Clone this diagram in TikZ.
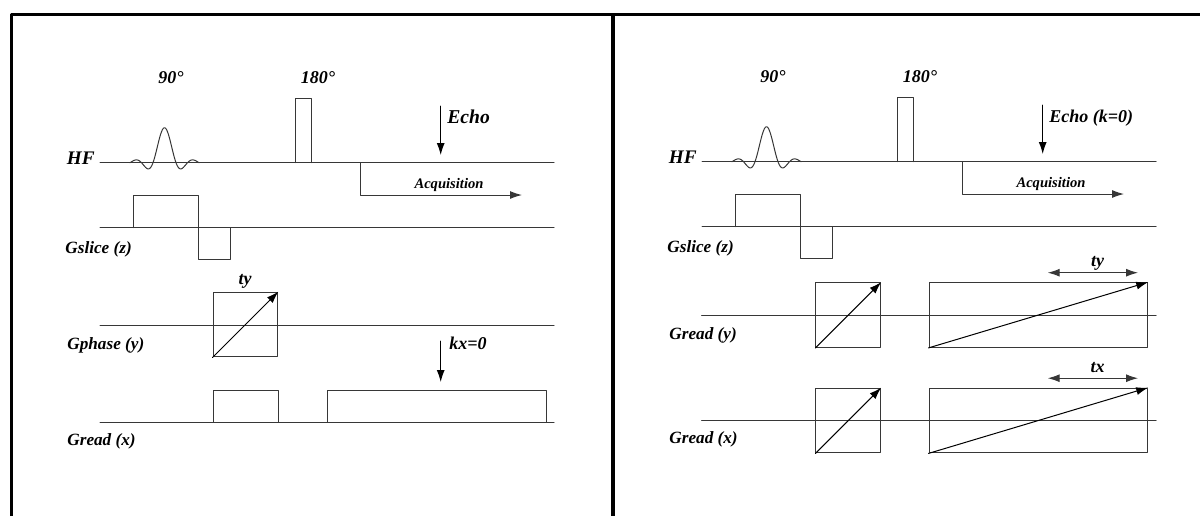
\documentclass[tikz,border=0pt]{standalone}
\usepackage{fontspec}
\setmainfont{Liberation Serif}
\usetikzlibrary{arrows.meta}

\definecolor{trazo}{RGB}{55,55,55}

\tikzset{
  eje/.style={draw=trazo, line width=0.5pt},
  marco/.style={draw=black, line width=1.6pt},
  caja/.style={draw=trazo, line width=0.5pt, inner sep=0pt, minimum width=32.4pt, minimum height=32.4pt},
  flecha/.style={-{Latex[length=6pt,width=4pt]}, line width=0.5pt},
  dflecha/.style={{Latex[length=6pt,width=4pt]}-{Latex[length=6pt,width=4pt]}, line width=0.5pt, draw=trazo},
  etiq/.style={inner sep=0pt, font=\fontsize{9}{10}\selectfont\bfseries\itshape},
  gtxt/.style={inner sep=0pt, font=\fontsize{8.6}{10}\selectfont\bfseries\itshape},
}

\begin{document}
\begin{tikzpicture}[line cap=round, line join=round, x=0.5pt, y=-0.5pt]
		\useasboundingbox (0,0) rectangle (1200,516);
		
		% Marco y separador
		\draw[marco, line cap=butt] (11.5,516) -- (11.5,14.7) -- (1200,14.7);
		\draw[marco, line cap=butt] (613,14.7) -- (613,516);
		
		% HF y Gslice (iguales en los dos paneles)
		\foreach \p/\dx/\dy in {izq/0/0, der/602/-1}{
			\begin{scope}[shift={(\dx,\dy)}]
				\node[etiq, font=\fontsize{9.6}{10}\selectfont\bfseries\itshape, anchor=base east] (hf-\p) at (95,164) {HF};
				\draw[eje] (100,162.7) -- (554,162.7);
				% pulso sinc de 90
				\draw[eje, samples=80, domain=-3:3] plot ({164.5+11.5*\x}, {162.7-35*sin(180*\x)/(3.14159*\x)*(0.8+0.2*cos(60*\x))});
				\node[etiq, anchor=base] (p90-\p) at (171,83) {90°};
				% pulso de 180
				\draw[eje] (295,162.7) -- (295,98) -- (311.7,98) -- (311.7,162.7);
				\node[etiq, anchor=base] (p180-\p) at (318,83) {180°};
				% ventana de adquisicion
				\coordinate (acq0-\p) at (360,162.7);
				\coordinate (acq1-\p) at (360,195);
				\coordinate (acq2-\p) at (522,195);
				\draw[flecha, draw=trazo] (acq0-\p) -- (acq1-\p) -- (acq2-\p);
				\node[inner sep=0pt, font=\fontsize{7.3}{8}\selectfont\bfseries\itshape, anchor=base] (acq-\p) at (449,188) {Acquisition};
				% flecha del eco
				\coordinate (eco0-\p) at (440.7,106);
				\coordinate (eco1-\p) at (440.7,155);
				\draw[flecha] (eco0-\p) -- (eco1-\p);
				% gradiente de corte
				\draw[eje] (100,227.7) -- (554,227.7);
				\draw[eje] (133,227.7) -- (133,195.7) -- (198,195.7) -- (198,259) -- (230,259) -- (230,227.7);
				\node[gtxt, anchor=base west] (gs-\p) at (65,253) {Gslice (z)};
			\end{scope}
		}
		\node[etiq, font=\fontsize{9.8}{10}\selectfont\bfseries\itshape, anchor=base west] (eco) at (447,123) {Echo};
		\node[etiq, anchor=base west] (ecok) at (1049,122) {Echo (k=0)};
		
		% Panel izquierdo: Gphase (y)
		\draw[eje] (100,325) -- (554,325);
		\node[caja] (fase) at (245.5,324.5) {};
		\draw[flecha] (fase.south west) -- (fase.north east);
		\node[etiq, anchor=base] (ty-izq) at (245,284) {ty};
		\node[gtxt, anchor=base west] (gp) at (67,349) {Gphase (y)};
		
		% Panel izquierdo: Gread (x)
		\draw[eje] (100,422) -- (554,422);
		\draw[eje] (213,422) -- (213,390) -- (278,390) -- (278,422);
		\draw[eje] (327,422) -- (327,390) -- (546,390) -- (546,422);
		\coordinate (kx0) at (440.7,341);
		\coordinate (kx1) at (440.7,382);
		\draw[flecha] (kx0) -- (kx1);
		\node[etiq, anchor=base west] (kx) at (449,349) {kx=0};
		\node[gtxt, anchor=base west] (grx-izq) at (67,445) {Gread (x)};
		
		% Panel derecho: Gread (y) y Gread (x)
		\foreach \q/\yc/\yl/\tt in {y/315/339/ty, x/420.5/443/tx}{
			\draw[eje] (701.7,\yc) -- (1156,\yc);
			\node[caja] (cuad-\q) at (848.3,\yc) {};
			\draw[flecha] (cuad-\q.south west) -- (cuad-\q.north east);
			\node[caja, minimum width=109.35pt] (rect-\q) at (1038.35,\yc) {};
			\draw[flecha] (rect-\q.south west) -- (rect-\q.north east);
			\coordinate (t0-\q) at (1047.7,\yc-42.3);
			\coordinate (t1-\q) at (1138,\yc-42.3);
			\draw[dflecha] (t0-\q) -- (t1-\q);
			\node[etiq, anchor=base] (t-\q) at (1097.7,\yc-48.3) {\tt};
			\node[gtxt, anchor=base west] (gr-\q) at (669,\yl) {Gread (\q)};
		}
		
	\end{tikzpicture}
\end{document}
